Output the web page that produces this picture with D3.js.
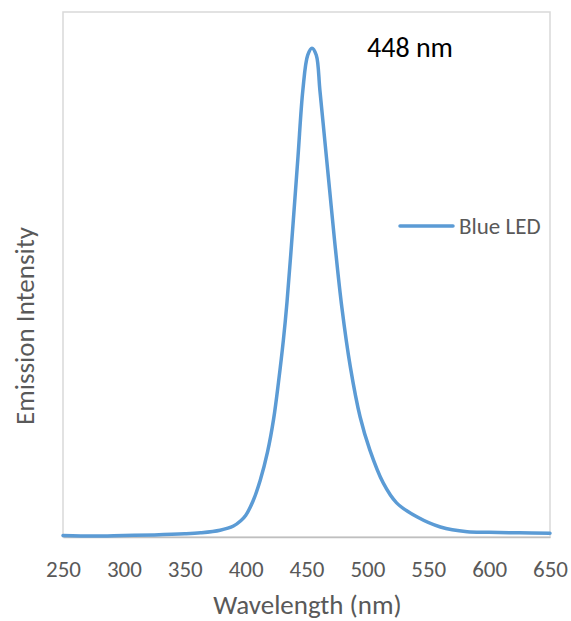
<!DOCTYPE html>
<html>
<head>
<meta charset="utf-8">
<script src="https://cdn.jsdelivr.net/npm/d3@7"></script>
<style>
  html, body { margin: 0; padding: 0; background: #fff; }
  svg { display: block; font-family: Calibri, Carlito, "Open Sans", sans-serif; }
</style>
</head>
<body>
<svg id="chart" width="571" height="621"></svg>
<script>
// Emission spectrum of a blue LED (normalised intensity vs wavelength)
const wavelengths = [250, 275, 300, 325, 350, 363, 379, 390, 396, 400, 406, 412, 418, 423, 427, 431, 434,
  439, 443, 447, 451, 454.5, 458, 461, 465, 469, 473, 479, 486, 494, 502, 513, 524, 541, 560, 582, 600, 625, 650];
const intensities = [0.003, 0.002, 0.003, 0.004, 0.006, 0.008, 0.013, 0.021, 0.031, 0.041, 0.068, 0.108, 0.162,
  0.225, 0.295, 0.375, 0.448, 0.598, 0.724, 0.851, 0.918, 0.931, 0.918, 0.851, 0.756, 0.661, 0.566,
  0.438, 0.324, 0.229, 0.166, 0.103, 0.065, 0.038, 0.019, 0.010, 0.009, 0.008, 0.007];
const xTicks = [250, 300, 350, 400, 450, 500, 550, 600, 650];
const seriesName = "Blue LED";
const peakLabel = "448 nm";
const xTitle = "Wavelength (nm)";
const yTitle = "Emission Intensity";

const svg = d3.select("#chart");
const plot = { left: 63, right: 550, top: 12, bottom: 537 };

const x = d3.scaleLinear().domain([250, 650]).range([plot.left, plot.right]);
const y = d3.scaleLinear().domain([0, 1]).range([plot.bottom, plot.top]);

// plot frame
svg.append("rect")
  .attr("x", plot.left).attr("y", plot.top)
  .attr("width", plot.right - plot.left).attr("height", plot.bottom - plot.top)
  .attr("fill", "none").attr("stroke", "#D9D9D9").attr("stroke-width", 1.5);

// bottom axis
const xAxis = d3.axisBottom(x).tickValues(xTicks).tickSize(0).tickPadding(0).tickFormat(d3.format("d"));
const gx = svg.append("g").attr("transform", `translate(0,${plot.bottom})`).call(xAxis);
gx.select(".domain").attr("stroke", "#BFBFBF").attr("stroke-width", 1.5);
gx.selectAll(".tick text")
  .attr("y", 40).attr("dy", 0)
  .attr("fill", "#595959").style("font-size", "23px")
  .style("font-family", 'Calibri, Carlito, "Open Sans", sans-serif');

// spectrum line
const data = wavelengths.map((w, i) => ({ w, v: intensities[i] }));
const line = d3.line().x(d => x(d.w)).y(d => y(d.v)).curve(d3.curveCatmullRom.alpha(0.5));
svg.append("path").datum(data)
  .attr("d", line).attr("fill", "none")
  .attr("stroke", "#5B9BD5").attr("stroke-width", 3.5).attr("stroke-linejoin", "round").attr("stroke-linecap", "round");

// peak annotation
svg.append("text").attr("x", 367).attr("y", 57)
  .attr("fill", "#000").style("font-size", "28px").text(peakLabel);

// legend
svg.append("line").attr("x1", 400).attr("x2", 453).attr("y1", 226).attr("y2", 226)
  .attr("stroke", "#5B9BD5").attr("stroke-width", 3.5).attr("stroke-linecap", "round");
svg.append("text").attr("x", 459).attr("y", 234)
  .attr("fill", "#595959").style("font-size", "23px").text(seriesName);

// axis titles
svg.append("text").attr("x", 307.5).attr("y", 614).attr("text-anchor", "middle")
  .attr("fill", "#595959").style("font-size", "27px").text(xTitle);
svg.append("text").attr("transform", "translate(34,326) rotate(-90)").attr("text-anchor", "middle")
  .attr("fill", "#595959").style("font-size", "27px").text(yTitle);
</script>
</body>
</html>
